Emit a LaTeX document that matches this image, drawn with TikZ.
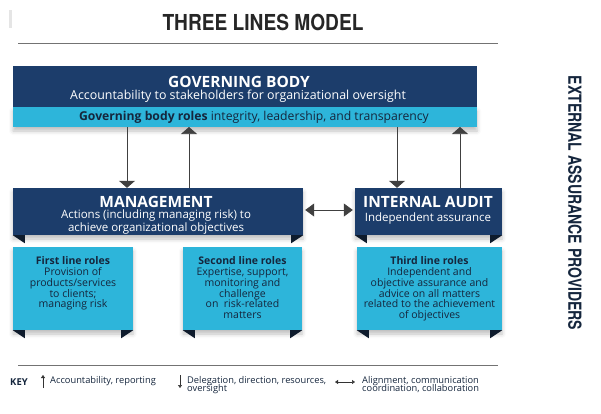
\documentclass[tikz,border=0pt]{standalone}
\usepackage{fontspec}
\setmainfont{Open Sans}
\newfontfamily\heros{TeX Gyre Heros}
\usetikzlibrary{arrows.meta,shadows.blur}

\definecolor{navy}{HTML}{1C3D6B}
\definecolor{sky}{HTML}{2DB5DA}
\definecolor{ink}{HTML}{15263D}
\definecolor{fold}{HTML}{0E1B2C}

\tikzset{
    darkbox/.style={fill=navy, inner sep=0pt},
    skybox/.style={fill=sky, inner sep=0pt},
    softshadow/.style={blur shadow={shadow xshift=0pt, shadow yshift=-4pt,
        shadow opacity=25, shadow blur radius=4pt}},
    head/.style={text=white, font=\bfseries\fontsize{15.5}{16}\selectfont, inner sep=0pt},
    sub/.style={text=white, align=center, font=\fontsize{11.5}{11}\selectfont, inner sep=0pt},
    roles/.style={text=ink, align=center, anchor=north, font=\fontsize{10.5}{10.8}\selectfont, inner sep=0pt},
    keytext/.style={text=ink, align=left, anchor=west, font=\fontsize{9.3}{10}\selectfont, inner sep=0pt},
    flow/.style={draw=black!75, line width=0.7pt, -{Triangle[width=16pt,length=7pt]}},
    keyflow/.style={draw=black!80, line width=0.5pt, -{Triangle[width=4pt,length=3pt]}},
    rule/.style={draw=black!55, line width=0.8pt},
}

\begin{document}
\begin{tikzpicture}[x=1pt, y=-1pt]
    \useasboundingbox (0,0) rectangle (601,413);
    \fill[gray!20] (9,10) rectangle (12,28);

    % title and rules
    \node[font=\heros\bfseries\fontsize{22}{22}\selectfont, text=black!85] (title) at (263,22)
        {\scalebox{0.87}[1]{THREE LINES MODEL}};
    \draw[rule] (18,43) -- (498,43);
    \draw[rule] (18,365) -- (498,365);

    % governing body
    \node[skybox, softshadow, minimum width=464pt, minimum height=20pt] (band) at (245,117) {};
    \node[darkbox, minimum width=464pt, minimum height=41pt] (gov) at (245,86.5) {};
    \node[head] (gov-t) at (239,82) {GOVERNING BODY};
    \node[sub, font=\fontsize{12.4}{12}\selectfont] (gov-s) at (238,96) {Accountability to stakeholders for organizational oversight};
    \node[text=ink, font=\fontsize{12.2}{12}\selectfont, inner sep=0pt] (band-t) at (254,117)
        {\textbf{Governing body roles} integrity, leadership, and transparency};

    % management and internal audit
    \node[darkbox, softshadow, minimum width=290pt, minimum height=47pt] (mgmt) at (158,211.5) {};
    \node[darkbox, softshadow, minimum width=147pt, minimum height=47pt] (ia) at (428.5,211.5) {};
    \node[head] (mgmt-t) at (156,202) {MANAGEMENT};
    \node[sub] (mgmt-s) at (156,222) {Actions (including managing risk) to\\achieve organizational objectives};
    \node[head] (ia-t) at (428,202) {INTERNAL AUDIT};
    \node[sub] (ia-s) at (428,219) {Independent assurance};

    % line roles
    \node[skybox, softshadow, minimum width=120pt, minimum height=83pt] (first) at (73,288.5) {};
    \node[skybox, softshadow, minimum width=119pt, minimum height=83pt] (second) at (242.5,288.5) {};
    \node[skybox, softshadow, minimum width=145pt, minimum height=83pt] (third) at (429.5,288.5) {};
    \node[roles] (first-t) at (73,256.5)
        {\textbf{First line roles}\\Provision of\\products/services\\to clients;\\managing risk};
    \node[roles] (second-t) at (242.5,256.5)
        {\textbf{Second line roles}\\Expertise, support,\\monitoring and\\challenge\\on\ \ risk-related\\matters};
    \node[roles] (third-t) at (429.5,256.5)
        {\textbf{Third line roles}\\Independent and\\objective assurance and\\advice on all matters\\related to the achievement\\of objectives};

    % folded ribbon corners
    \foreach \b in {mgmt,ia,first,second,third}{
        \fill[fold] (\b.south west) -- ++(12,0) -- ++(0,8) -- cycle;
        \fill[fold] (\b.south east) -- ++(-12,0) -- ++(0,8) -- cycle;
    }

    % reporting lines
    \coordinate (d1) at (127,127);
    \coordinate (u1) at (189,127);
    \coordinate (d2) at (397,127);
    \coordinate (u2) at (460,127);
    \draw[flow] (d1) -- (d1 |- mgmt.north);
    \draw[flow] (u1 |- mgmt.north) -- (u1);
    \draw[flow] (d2) -- (d2 |- ia.north);
    \draw[flow] (u2 |- ia.north) -- (u2);
    \draw[draw=black!75, line width=0.7pt, {Triangle[width=13pt,length=9pt]}-{Triangle[width=13pt,length=9pt]},
        shorten <=2pt, shorten >=2pt] (mgmt.east |- 0,210) -- (ia.west |- 0,210);

    % external providers
    \node[rotate=-90, text=ink, font=\heros\bfseries\fontsize{18}{18}\selectfont] (ext) at (575,203)
        {\scalebox{0.78}[1]{EXTERNAL ASSURANCE PROVIDERS}};

    % key
    \node[keytext, font=\bfseries\fontsize{9.5}{10}\selectfont] (key) at (10,382) {KEY};
    \coordinate (k1) at (43,388);
    \draw[keyflow] (k1) -- ++(0,-13);
    \node[keytext] (key-up) at (50,381.5) {Accountability, reporting};
    \coordinate (k2) at (180,375);
    \draw[keyflow] (k2) -- ++(0,13);
    \node[keytext, anchor=north west] (key-down) at (187,376) {Delegation, direction, resources,\\[-1.5pt]oversight};
    \coordinate (k3) at (335,382);
    \draw[keyflow, {Triangle[width=4pt,length=3pt]}-{Triangle[width=4pt,length=3pt]}] (k3) -- ++(20,0);
    \node[keytext, anchor=north west] (key-both) at (362,376) {Alignment, communication\\[-1.5pt]coordination, collaboration};
\end{tikzpicture}
\end{document}
